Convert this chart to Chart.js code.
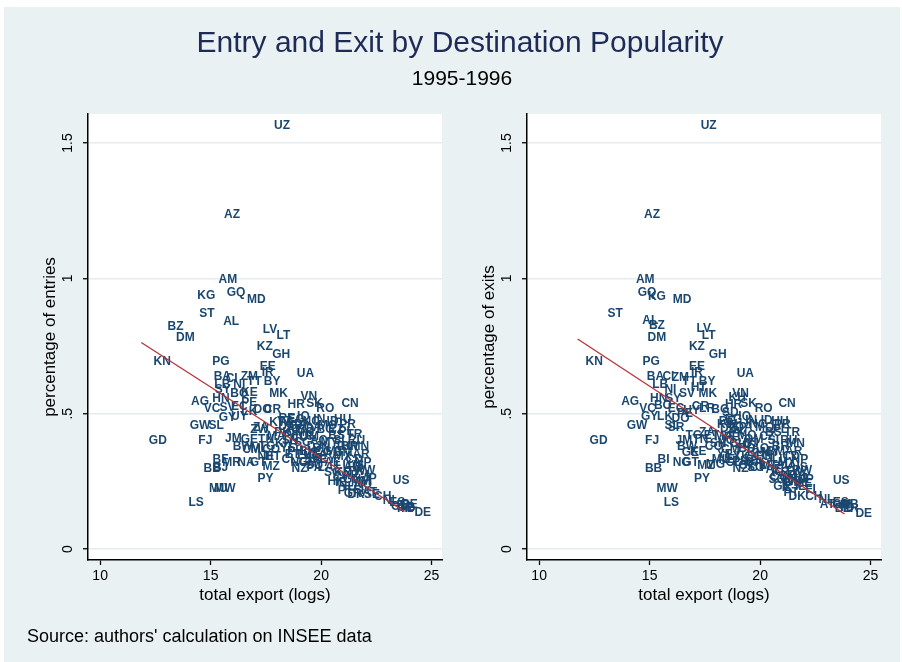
<!DOCTYPE html>
<html>
<head>
<meta charset="utf-8">
<script src="https://cdn.jsdelivr.net/npm/chart.js@4.4.1/dist/chart.umd.min.js"></script>
<style>
  body { margin: 0; background: #fff; width: 902px; height: 662px; overflow: hidden; position: relative; font-family: "Liberation Sans", Arial, sans-serif; }
  #frame { position: absolute; left: 4px; top: 7px; width: 896px; height: 655px; background: #e9f1f3; }
  canvas { position: absolute; top: 0; }
  .txt { position: absolute; white-space: nowrap; }
  #title { left: 0; width: 920px; text-align: center; top: 27px; font-size: 30px; line-height: 30px; color: #1f2b57; }
  #subtitle { left: 0; width: 924px; text-align: center; top: 67px; font-size: 21px; line-height: 21px; color: #000; }
  #source { left: 27px; top: 627px; font-size: 18px; line-height: 18px; color: #000; }
</style>
</head>
<body>
<div id="frame"></div>
<canvas id="entries" width="451" height="662" style="left:0"></canvas>
<canvas id="exits" width="451" height="662" style="left:451px"></canvas>
<div class="txt" id="title">Entry and Exit by Destination Popularity</div>
<div class="txt" id="subtitle">1995-1996</div>
<div class="txt" id="source">Source: authors' calculation on INSEE data</div>
<script>
// axis ticks
const xTicks = [10, 15, 20, 25];
const yTicks = [0, 0.5, 1, 1.5];
const yTickLabels = ['0', '.5', '1', '1.5'];

// entries panel: country codes, log total export, percentage of entries
const entryCodes = ['UZ','AZ','AM','GQ','KG','MD','ST','AL','BZ','DM','LV','LT','KZ','GH','KN','PG','UA','EE','IR','BY',
  'BA','CI','ZM','TT','LB','NI','SY','BO','KE','MK','AG','HN','VC','SV','PE','EC','LK','DO','CR','HR',
  'VN','SK','RO','CN','GW','SL','GY','UY','GD','FJ','ZW','JM','GE','BW','CM','BF','BJ','BB','MR','NA',
  'GT','MZ','PY','MU','MW','LS','ZA','TN','MA','CO','HT','PK','DZ','KW','EG','QA','OM','IN','ID','HU',
  'TR','CZ','PL','MY','TH','BR','AR','CL','PH','LY','SA','NG','VE','AE','MX','SG','KR','TW','HK','IL',
  'JP','GR','IE','PT','FI','NO','SE','US','DK','AT','CH','NL','ES','IT','GB','BE','FR','DE','JO','SN',
  'CU','KH','BD','IQ','SD','YE','ET','BH','UG','GA','SI','RU','AU','CA','LU','NZ','TZ','AO','BG','BN',
  'MT','CY','IS','PA','ML','TG','NE','RE','GP','MQ','NC','PF','SC','DJ','MO','BS','PR','BM','LA','MN',
  'NP','AF','MM','GF','SO','CG','CD','RW','GN','CV','TD','GM'];
const entryX = [18.23,15.97,15.78,16.15,14.80,17.07,14.83,15.93,13.41,13.86,17.69,18.29,17.45,18.19,12.81,15.46,19.29,17.58,17.58,17.78,
  15.53,15.95,16.75,16.98,15.53,16.30,15.55,16.30,16.75,18.08,14.52,15.47,15.07,15.76,16.75,16.30,16.75,17.35,17.80,18.87,
  19.44,19.70,20.19,21.31,14.52,15.25,15.76,16.30,12.61,14.76,17.21,16.03,16.75,16.45,16.85,15.45,15.45,15.07,15.95,16.60,
  17.15,17.74,17.48,15.35,15.65,14.34,17.28,17.51,17.96,17.74,17.81,18.26,18.42,18.11,18.87,19.62,19.47,19.92,20.52,20.98,
  21.51,20.68,21.13,20.38,20.98,21.28,21.81,18.57,18.84,19.24,19.61,19.02,19.92,20.52,20.98,20.52,20.98,21.58,20.68,21.28,
  22.19,21.43,20.90,21.10,21.70,21.90,22.30,23.62,21.58,22.19,22.79,23.15,23.45,23.65,23.85,24.00,23.80,24.60,18.70,18.60,
  19.00,18.30,19.30,19.20,18.80,18.50,18.70,19.40,19.60,19.85,20.80,21.60,21.40,21.90,21.00,19.02,18.35,19.90,20.20,20.00,
  20.60,20.30,21.70,19.70,17.20,17.55,17.50,18.45,18.95,19.25,19.55,18.65,19.15,19.70,20.30,20.70,21.20,21.00,20.20,21.75,
  21.90,21.30,21.80,19.35,19.70,20.10,21.50,22.00,21.40,20.90,23.90,23.60];
const entryY = [1.563,1.237,0.994,0.948,0.935,0.920,0.869,0.841,0.822,0.782,0.812,0.788,0.746,0.718,0.692,0.692,0.648,0.675,0.650,0.619,
  0.637,0.630,0.637,0.618,0.607,0.607,0.588,0.575,0.577,0.573,0.545,0.554,0.520,0.522,0.541,0.525,0.507,0.515,0.515,0.532,
  0.562,0.539,0.517,0.538,0.456,0.456,0.485,0.490,0.400,0.400,0.441,0.407,0.404,0.379,0.367,0.330,0.300,0.297,0.319,0.319,
  0.319,0.306,0.260,0.222,0.222,0.173,0.447,0.404,0.416,0.367,0.342,0.429,0.453,0.466,0.478,0.447,0.416,0.478,0.472,0.478,
  0.423,0.441,0.435,0.392,0.379,0.379,0.349,0.330,0.360,0.345,0.330,0.319,0.330,0.318,0.342,0.281,0.281,0.287,0.250,0.231,
  0.260,0.205,0.245,0.215,0.215,0.238,0.200,0.254,0.201,0.207,0.195,0.180,0.170,0.160,0.155,0.165,0.148,0.134,0.440,0.400,
  0.410,0.390,0.440,0.490,0.460,0.370,0.350,0.360,0.350,0.345,0.400,0.400,0.300,0.270,0.310,0.296,0.470,0.400,0.440,0.370,
  0.360,0.330,0.310,0.300,0.370,0.380,0.340,0.480,0.455,0.430,0.470,0.420,0.395,0.380,0.455,0.420,0.460,0.355,0.300,0.380,
  0.320,0.270,0.250,0.320,0.310,0.360,0.330,0.290,0.255,0.265,0.150,0.158];
const entryFitX = [11.86, 23.77];
const entryFitY = [0.763, 0.139];

// exits panel: country codes, log total export, percentage of exits
const exitCodes = ['UZ','AZ','AM','GQ','KG','MD','ST','AL','BZ','DM','LV','LT','KZ','GH','KN','PG','UA','EE','IR','BY',
  'BA','CI','ZM','TT','LB','NI','SY','HN','SV','HT','MK','AG','VC','BO','EC','PE','LK','DO','CR','GY',
  'GW','SL','UY','GD','FJ','HR','VN','KH','SK','RO','CN','LR','BG','SD','IN','ID','HU','TR','QA','OM',
  'CZ','PL','BR','MY','AR','MX','PH','LY','SA','AE','KR','TW','SG','HK','JP','IL','IE','FI','DK','CH',
  'NL','AT','ES','IT','GB','BE','FR','US','DE','JM','GE','BW','TN','ZA','CO','MA','CM','ML','MZ','KW',
  'EG','PK','CL','BI','BB','NG','GT','MG','PY','MW','LS','NZ','JO','SN','CU','BD','IQ','YE','ET','BH',
  'UG','GA','SI','RU','AU','CA','LU','NO','SE','PT','GR','AO','BN','MT','CY','IS','KE','TG','NE','SR',
  'DZ','RE','GP','MQ','NC','PF','SC','DJ','MO','BS','PR','BM','LA','MN','NP','AF','MM','GF','SO','CG',
  'CD','RW','GN','CV','TD','GM'];
const exitX = [17.67,15.11,14.80,14.88,15.33,16.47,13.44,15.03,15.33,15.33,17.45,17.67,17.14,18.08,12.49,15.07,19.33,17.14,17.14,17.60,
  15.26,15.85,16.39,16.80,15.48,15.94,16.07,15.41,16.69,17.22,17.63,14.12,14.91,15.60,16.20,16.60,15.70,16.40,17.30,15.00,
  14.43,16.02,16.90,12.69,15.11,18.80,19.11,18.96,19.48,20.16,21.22,17.60,18.20,18.65,19.60,20.30,20.90,21.45,19.26,19.71,
  20.32,20.92,20.92,20.47,21.52,21.22,19.11,18.80,19.56,20.62,20.92,21.52,20.77,21.37,22.10,21.22,21.83,22.28,21.68,22.43,
  23.00,23.04,23.65,23.85,24.05,23.75,24.10,23.67,24.69,16.55,16.84,16.69,17.30,17.60,17.90,18.35,18.65,18.20,17.55,18.50,
  18.80,18.96,18.80,15.63,15.18,16.45,16.85,17.98,17.37,15.79,15.98,19.11,18.50,18.10,19.00,19.40,19.30,18.40,17.80,19.80,
  19.30,19.70,20.60,21.30,21.10,21.70,20.90,21.50,22.00,21.40,21.00,20.00,20.20,20.40,19.90,21.90,17.20,17.00,18.50,16.20,
  18.55,18.50,19.00,19.40,19.90,18.70,19.20,19.60,20.20,20.60,21.00,20.70,20.30,21.60,21.80,21.20,21.70,19.40,19.80,20.10,
  21.40,21.90,21.50,20.80,23.90,23.70];
const exitY = [1.563,1.237,0.994,0.948,0.933,0.923,0.869,0.845,0.825,0.782,0.816,0.790,0.746,0.718,0.692,0.692,0.648,0.675,0.650,0.619,
  0.637,0.637,0.633,0.620,0.607,0.589,0.555,0.554,0.576,0.595,0.576,0.545,0.518,0.530,0.520,0.500,0.490,0.480,0.527,0.490,
  0.456,0.456,0.510,0.400,0.400,0.532,0.576,0.558,0.539,0.519,0.539,0.520,0.515,0.503,0.475,0.475,0.470,0.429,0.447,0.404,
  0.416,0.441,0.379,0.355,0.361,0.318,0.324,0.342,0.330,0.293,0.281,0.287,0.256,0.256,0.256,0.226,0.232,0.220,0.195,0.195,
  0.183,0.164,0.170,0.160,0.165,0.150,0.150,0.254,0.131,0.400,0.355,0.379,0.404,0.429,0.379,0.416,0.367,0.330,0.310,0.460,
  0.478,0.429,0.318,0.330,0.297,0.318,0.318,0.312,0.260,0.222,0.173,0.296,0.400,0.390,0.390,0.370,0.490,0.350,0.420,0.355,
  0.340,0.320,0.400,0.400,0.310,0.270,0.330,0.250,0.240,0.210,0.230,0.370,0.340,0.310,0.300,0.300,0.360,0.420,0.330,0.450,
  0.445,0.470,0.450,0.420,0.460,0.410,0.385,0.390,0.450,0.430,0.460,0.360,0.310,0.390,0.330,0.270,0.260,0.310,0.300,0.340,
  0.340,0.290,0.245,0.265,0.155,0.165];
const exitFitX = [11.74, 23.82];
const exitFitY = [0.776, 0.130];

const NAVY = '#1a476f';
const FIT = '#b8333a';
const AXIS_FONT = '"Liberation Sans", Arial, sans-serif';

const plotBg = {
  id: 'plotBg',
  beforeDraw(chart) {
    const { ctx, chartArea: a } = chart;
    ctx.save();
    ctx.fillStyle = '#ffffff';
    ctx.fillRect(a.left, a.top, a.right - a.left, a.bottom - a.top);
    ctx.restore();
  }
};

// country codes are drawn as the markers, at the points placed by the scales
function codeLabels(codes) {
  return {
    id: 'codeLabels',
    afterDatasetDraw(chart, args) {
      if (args.index !== 0) return;
      const ctx = chart.ctx;
      ctx.save();
      ctx.font = 'bold 12px ' + AXIS_FONT;
      ctx.fillStyle = NAVY;
      ctx.textAlign = 'center';
      ctx.textBaseline = 'middle';
      args.meta.data.forEach((pt, i) => ctx.fillText(codes[i], pt.x, pt.y));
      ctx.restore();
    }
  };
}

function makePanel(id, codes, xs, ys, fitX, fitY, yTitle, padLeft, padRight) {
  new Chart(document.getElementById(id), {
    type: 'scatter',
    data: {
      datasets: [
        { data: xs.map((x, i) => ({ x: x, y: ys[i] })), pointRadius: 0, order: 2 },
        { data: fitX.map((x, i) => ({ x: x, y: fitY[i] })), showLine: true, borderColor: FIT,
          borderWidth: 1.3, pointRadius: 0, order: 1 }
      ]
    },
    options: {
      responsive: false,
      animation: false,
      devicePixelRatio: 1,
      layout: { padding: { left: padLeft, top: 114, right: padRight, bottom: 56 } },
      plugins: { legend: { display: false }, tooltip: { enabled: false } },
      scales: {
        x: {
          type: 'linear', min: 9.45, max: 25.47,
          afterBuildTicks: s => { s.ticks = xTicks.map(v => ({ value: v })); },
          afterFit: s => { s.height = 46; },
          ticks: { color: '#000', font: { family: AXIS_FONT, size: 14 }, padding: 3, maxRotation: 0, autoSkip: false },
          grid: { drawOnChartArea: false, tickLength: 5, tickColor: '#000', tickWidth: 1.3 },
          border: { color: '#000', width: 1.5 },
          title: { display: true, text: 'total export (logs)', color: '#000',
                   font: { family: AXIS_FONT, size: 17 }, padding: { top: 0, bottom: 0 } }
        },
        y: {
          type: 'linear', min: -0.04, max: 1.607,
          afterBuildTicks: s => { s.ticks = yTicks.map(v => ({ value: v })); },
          afterFit: s => { s.width = 58; },
          ticks: { color: '#000', font: { family: AXIS_FONT, size: 14 }, padding: 5,
                   minRotation: 90, maxRotation: 90, crossAlign: 'center', autoSkip: false,
                   callback: v => yTickLabels[yTicks.indexOf(v)] },
          grid: { color: '#e3ecef', lineWidth: 1.5, tickLength: 5, tickColor: '#000', tickWidth: 1.3 },
          border: { color: '#000', width: 1.5 },
          title: { display: true, text: yTitle, color: '#000',
                   font: { family: AXIS_FONT, size: 17 }, padding: { top: 10, bottom: 0 } }
        }
      }
    },
    plugins: [plotBg, codeLabels(codes)]
  });
}

makePanel('entries', entryCodes, entryX, entryY, entryFitX, entryFitY, 'percentage of entries', 30, 9);
makePanel('exits', exitCodes, exitX, exitY, exitFitX, exitFitY, 'percentage of exits', 18, 21);
</script>
</body>
</html>
